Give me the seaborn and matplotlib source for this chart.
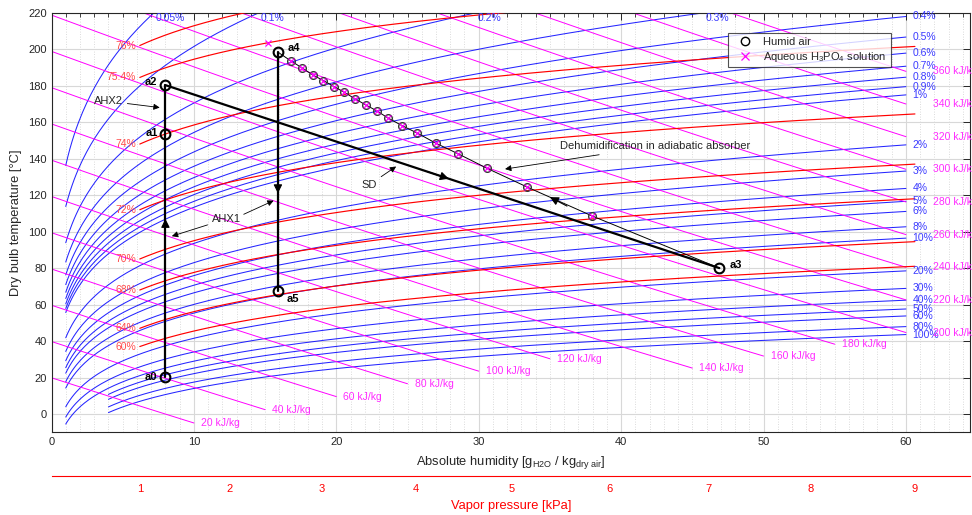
import numpy as np
import pandas as pd
import matplotlib
matplotlib.use("Agg")
import matplotlib.pyplot as plt
from matplotlib.lines import Line2D
from matplotlib.ticker import MultipleLocator
import seaborn as sns

# ---------------- data ----------------
P_ATM = 101.325  # kPa

rh_levels = [0.05, 0.1, 0.2, 0.3, 0.4, 0.5, 0.6, 0.7, 0.8, 0.9, 1, 2, 3, 4, 5, 6, 8, 10,
             20, 30, 40, 50, 60, 80, 100]                       # relative humidity [%]
rh_x_start = [1] * 21 + [4] * 4                                   # g/kg where curve starts
rh_x_end = 60

enthalpy_levels = list(range(20, 361, 20))                        # kJ/kg
enthalpy_x_end = [10, 15, 20, 25, 30, 35, 45, 50, 55] + [60] * 9   # g/kg where line ends

conc_levels = [60, 64, 68, 70, 72, 74, 75.4, 76]                  # wt% H3PO4
conc_T_at_1kPa = [37, 47, 68, 85, 112, 148, 184.5, 202]           # deg C
conc_T_at_9kPa = [81, 94.5, 118, 137, 164.5, 201.5, 235, 257]     # deg C
conc_p_range = [1, 9]                                             # kPa

state_names = ["a0", "a1", "a2", "a3", "a4", "a5"]
state_x = [8.0, 8.0, 8.0, 46.9, 15.9, 15.9]
state_T = [20.3, 153.4, 180.3, 80.0, 198.4, 67.2]

absorber_x = [16.8, 17.57, 18.34, 19.09, 19.84, 20.56, 21.31, 22.06, 22.84, 23.65,
              24.64, 25.69, 26.98, 28.57, 30.56, 33.41, 37.93]
absorber_T = [193.6, 189.9, 185.9, 182.8, 179.5, 176.4, 172.8, 169.5, 166.2, 162.2,
              158.0, 154.0, 148.5, 142.6, 134.8, 124.4, 108.7]
solution_inlet_x = [15.2]
solution_inlet_T = [203.6]

vp_ticks = [1, 2, 3, 4, 5, 6, 7, 8, 9]                            # kPa

# ---------------- helpers ----------------
_n = [1167.0521452767, -724213.16703206, -17.073846940092, 12020.82470247,
      -3232555.0322333, 14.91510861353, -4823.2657361591, 405113.40542057,
      -0.23855557567849, 650.17534844798]


def tsat(p_kpa):
    pm = np.asarray(p_kpa, float) / 1000.0
    b = pm ** 0.25
    E = b ** 2 + _n[2] * b + _n[5]
    F = _n[0] * b ** 2 + _n[3] * b + _n[6]
    G = _n[1] * b ** 2 + _n[4] * b + _n[7]
    D = 2 * G / (-F - np.sqrt(F ** 2 - 4 * E * G))
    T = (_n[9] + D - np.sqrt((_n[9] + D) ** 2 - 4 * (_n[8] + _n[9] * D))) / 2
    return T - 273.15


def x_from_p(p):
    p = np.asarray(p, float)
    return 622.0 * p / (P_ATM - p)


def p_from_x(x):
    x = np.asarray(x, float)
    return x * P_ATM / (622.0 + x)


# ---------------- style ----------------
sns.set_theme(style="white")
plt.rcParams["font.family"] = ["Liberation Sans", "DejaVu Sans"]
plt.rcParams["mathtext.fontset"] = "custom"
plt.rcParams["mathtext.rm"] = "Liberation Sans"
plt.rcParams["mathtext.it"] = "Liberation Sans"

W, H = 972, 515
fig = plt.figure(figsize=(W / 100, H / 100), dpi=100)
L, R, T_, B = 51.5, 970, 12.7, 432.3
ax = fig.add_axes([L / W, 1 - B / H, (R - L) / W, (B - T_) / H])
ax.set_xlim(0, 64.5)
ax.set_ylim(-10, 220)

BLUE = "#0000ff"
RED = "#ff0000"
MAG = "#ff00ff"
BLUE_T = "#3a3aff"
RED_T = "#ff4a4a"
MAG_T = "#ff2bff"
FS = 7.5

# relative humidity curves
for rh, xs in zip(rh_levels, rh_x_start):
    x = np.linspace(xs, rh_x_end, 400)
    ps = p_from_x(x) / (rh / 100.0)
    T = np.where(ps < 21000, tsat(np.minimum(ps, 21000)), np.nan)
    ax.plot(x, T, color=BLUE, lw=0.75, alpha=0.85, zorder=2)
    lab = f"{rh:g}%"
    if T[-1] <= 220:
        ax.text(60.45, T[-1], lab, color=BLUE_T, fontsize=FS, ha="left", va="center", zorder=5)
    else:
        ok = ~np.isnan(T)
        xc = np.interp(220, T[ok], x[ok])
        ax.text(xc + 0.1, 219.6, lab, color=BLUE_T, fontsize=FS, ha="left", va="top", zorder=5)

# enthalpy lines
for h, xe in zip(enthalpy_levels, enthalpy_x_end):
    x = np.linspace(0, xe, 200)
    T = (h - 2.501 * x) / (1.006 + 0.00186 * x)
    ax.plot(x, T, color=MAG, lw=0.7, zorder=2)
    xt = xe + 0.5 if xe < 60 else 61.9
    ax.text(xt, T[-1], f"{h} kJ/kg", color=MAG_T, fontsize=FS, ha="left", va="center", zorder=5)

# H3PO4 iso-concentration lines
for c, t1, t9 in zip(conc_levels, conc_T_at_1kPa, conc_T_at_9kPa):
    T1, T9 = t1 + 273.15, t9 + 273.15
    Bc = np.log(conc_p_range[1] / conc_p_range[0]) / (1 / T1 - 1 / T9)
    p = np.linspace(conc_p_range[0], conc_p_range[1], 300)
    T = 1.0 / (1 / T1 - np.log(p / conc_p_range[0]) / Bc) - 273.15
    ax.plot(x_from_p(p), T, color=RED, lw=0.85, zorder=3)
    ax.text(x_from_p(conc_p_range[0]) - 0.25, t1, f"{c:g}%", color=RED_T, fontsize=FS,
            ha="right", va="center", zorder=5)

# ---------------- process ----------------
sx = dict(zip(state_names, state_x))
sT = dict(zip(state_names, state_T))

for seg in [("a0", "a2"), ("a2", "a3"), ("a4", "a5")]:
    d = pd.DataFrame({"x": [sx[seg[0]], sx[seg[1]]], "T": [sT[seg[0]], sT[seg[1]]]})
    sns.lineplot(data=d, x="x", y="T", ax=ax, color="black", lw=1.6, sort=False,
                 estimator=None, zorder=6)

path = pd.DataFrame({"x": [sx["a4"]] + absorber_x + [sx["a3"]],
                     "T": [sT["a4"]] + absorber_T + [sT["a3"]]})
sns.lineplot(data=path, x="x", y="T", ax=ax, color="black", lw=0.7, sort=False,
             estimator=None, zorder=6)

ax.plot(absorber_x, absorber_T, ls="none", marker="o", ms=5.5, mfc="none", mec="#333333",
        mew=1.0, zorder=7)
ax.plot(absorber_x + solution_inlet_x, absorber_T + solution_inlet_T, ls="none", marker="x",
        ms=5, color=MAG, mew=0.9, zorder=8)
ax.plot(state_x, state_T, ls="none", marker="o", ms=7, mfc="none", mec="black", mew=1.5,
        zorder=8)

lab_pos = {"a0": (7.45, 20.5, "right"), "a1": (7.45, 154, "right"), "a2": (7.45, 182, "right"),
           "a3": (47.6, 81.8, "left"), "a4": (16.6, 200.5, "left"), "a5": (16.5, 63, "left")}
for nme, (lx, ly, ha) in lab_pos.items():
    ax.text(lx, ly, nme, fontsize=8, fontweight="bold", ha=ha, va="center", color="black",
            zorder=9)

# direction arrows on process lines
def dir_arrow(x0, y0, x1, y1):
    ax.annotate("", xy=(x1, y1), xytext=(x0, y0),
                arrowprops=dict(arrowstyle="-|>", color="black", lw=0.8, mutation_scale=13,
                                shrinkA=0, shrinkB=0), zorder=9)

dir_arrow(8, 100, 8, 107)
dir_arrow(15.9, 128, 15.9, 121)
t0 = (26.4 - 8) * (80.0 - 180.3) / (46.9 - 8) + 180.3
t1 = (27.9 - 8) * (80.0 - 180.3) / (46.9 - 8) + 180.3
dir_arrow(26.4, t0, 27.9, t1)
dir_arrow(36.2, 114.0, 35.0, 118.9)

# text annotations
def note(text, xy, xytext, ha="center"):
    ax.annotate(text, xy=xy, xytext=xytext, fontsize=8, ha=ha, va="center", color="#262626",
                arrowprops=dict(arrowstyle="-|>", color="black", lw=0.6, mutation_scale=9,
                                shrinkA=1, shrinkB=0), zorder=9)

note("AHX2", (7.6, 168.0), (5.0, 171.5), ha="right")
note("AHX1", (8.45, 97.5), (12.3, 107))
ax.annotate("", xy=(15.6, 117), xytext=(13.5, 109.5),
            arrowprops=dict(arrowstyle="-|>", color="black", lw=0.6, mutation_scale=9,
                            shrinkA=0, shrinkB=0), zorder=9)
note("SD", (24.2, 135.7), (22.3, 125.6))
note("Dehumidification in adiabatic absorber", (31.85, 134.3), (35.7, 146.8), ha="left")

# legend
handles = [Line2D([], [], ls="none", marker="o", ms=6, mfc="none", mec="black", mew=1.0),
           Line2D([], [], ls="none", marker="x", ms=6, color=MAG, mew=0.9)]
leg = ax.legend(handles, ["Humid air", "Aqueous H$_3$PO$_4$ solution"], loc="upper left",
                bbox_to_anchor=(0.731, 0.965), fontsize=8, frameon=True, fancybox=False,
                borderpad=0.35, handletextpad=0.6, labelspacing=0.25, handlelength=2.2)
leg.get_frame().set_edgecolor("#262626")
leg.get_frame().set_linewidth(0.8)
leg.set_zorder(10)

# axes styling
ax.set_xticks(np.arange(0, 61, 10))
ax.set_yticks(np.arange(0, 221, 20))
ax.xaxis.set_minor_locator(MultipleLocator(1))
ax.grid(which="major", color="#d8d8d8", lw=0.8, zorder=0)
ax.grid(which="minor", axis="x", color="#cfcfcf", lw=0.6, ls=(0, (1, 2)), zorder=0)
ax.set_axisbelow(True)
ax.tick_params(which="both", direction="in", top=True, right=True, colors="#262626",
               labelsize=8)
ax.tick_params(which="major", length=5, width=0.7)
ax.tick_params(which="minor", length=3, width=0.6)
for s in ax.spines.values():
    s.set_color("#262626")
    s.set_linewidth(0.8)
ax.set_xlabel("Absolute humidity [g$_{\\mathrm{H2O}}$ / kg$_{\\mathrm{dry\\ air}}$]",
              fontsize=9.3, color="#262626", labelpad=5)
ax.set_ylabel("Dry bulb temperature [°C]", fontsize=9.3, color="#262626", labelpad=4)

# vapor pressure axis
yv = 1 - 476 / H
ax2 = fig.add_axes([L / W, yv, (R - L) / W, 0.001])
ax2.set_xlim(ax.get_xlim())
ax2.set_ylim(0, 1)
ax2.patch.set_visible(False)
for k in ["top", "left", "right"]:
    ax2.spines[k].set_visible(False)
ax2.spines["bottom"].set_color(RED)
ax2.spines["bottom"].set_linewidth(0.8)
ax2.set_yticks([])
ax2.set_xticks(x_from_p(vp_ticks))
ax2.set_xticklabels([str(v) for v in vp_ticks])
ax2.tick_params(axis="x", direction="in", length=7, width=0.7, colors=RED, labelsize=8,
                pad=6)
ax2.grid(False)
ax2.set_xlabel("Vapor pressure [kPa]", fontsize=9.3, color=RED, labelpad=4)

fig.savefig("out.png", dpi=100)
